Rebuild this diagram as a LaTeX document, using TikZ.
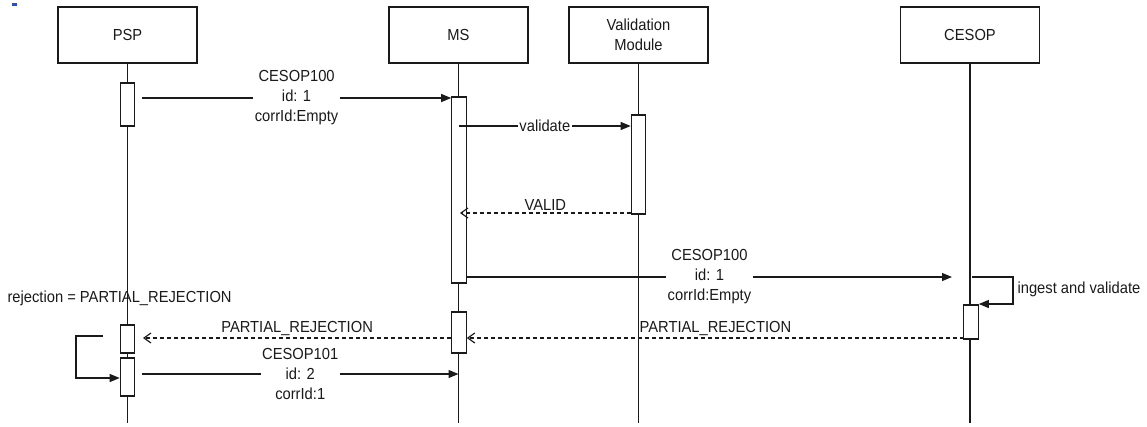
\documentclass[tikz,border=0pt]{standalone}
\usepackage{fontspec}
\setmainfont{Liberation Sans}[FakeStretch=0.92]
\usetikzlibrary{arrows.meta}
\definecolor{ink}{HTML}{1A1A1A}
\definecolor{bluemark}{HTML}{1E4FE0}
\begin{document}
\begin{tikzpicture}[x=1pt,y=-1pt,
  font=\fontsize{16}{20}\selectfont, color=ink, line width=1.15pt,
  actor/.style={draw, fill=white, minimum width=139pt, minimum height=56pt, align=center, inner sep=0pt},
  act/.style={draw, fill=white, minimum width=14.5pt, inner sep=0pt},
  msg/.style={draw, -{Triangle[length=10pt,width=8pt]}},
  ret/.style={draw, -{Straight Barb[length=7pt,width=10pt]}, dash pattern=on 4pt off 3pt},
  lbl/.style={fill=white, inner sep=1.5pt, align=center},
  note/.style={inner sep=1pt}]
\useasboundingbox (0,0) rectangle (1147,426);
\fill[bluemark] (12,3) rectangle (17,6);
% actors
\node[actor] (psp) at (127.5,35) {PSP};
\node[actor] (ms) at (458.5,35) {MS};
\node[actor] (vm) at (638.5,35) {Validation\\Module};
\node[actor] (cesop) at (970,35) {CESOP};
% lifeline ends
\coordinate (pspEnd) at (127.5,423);
\coordinate (msEnd) at (458.5,423);
\coordinate (vmEnd) at (638.5,423);
\coordinate (cesopEnd) at (970,423);
\draw (psp.south) -- (pspEnd);
\draw (ms.south) -- (msEnd);
\draw (vm.south) -- (vmEnd);
\draw (cesop.south) -- (cesopEnd);
% activations
\node[act, minimum height=43pt] (pa1) at (127.5,104.5) {};
\node[act, minimum height=186pt] (ma1) at (459,190) {};
\node[act, minimum height=99pt] (va1) at (638.5,164.5) {};
\node[act, minimum height=34pt] (ca1) at (971,322) {};
\node[act, minimum height=41pt] (ma2) at (459,332.5) {};
\node[act, minimum height=28pt] (pa2) at (127.5,339) {};
\node[act, minimum height=38pt] (pa3) at (127.5,377) {};
% message anchors
\coordinate (m1s) at (142,98);
\coordinate (m2s) at (459,126);
\coordinate (m3e) at (460,213);
\coordinate (m4e) at (952,277);
\coordinate (sl1) at (972,277);
\coordinate (sl2) at (1013,304);
\coordinate (r1s) at (964,338);
\coordinate (r2e) at (143,338);
\coordinate (pl1) at (103,336);
\coordinate (pl2) at (76,378);
\coordinate (m9s) at (142,374);
% messages
\draw[msg] (m1s) -- (ma1.west |- m1s)
  node[lbl, pos=0.5] {CESOP100\\id: 1\\corrId:Empty};
\draw[msg] (m2s) -- (va1.west |- m2s) node[lbl, pos=0.5] {validate};
\draw[ret] (va1.west |- m3e) -- (m3e) node[note, pos=0.5, above=1pt] {VALID};
\draw[msg] (ma1.east |- m4e) -- (m4e)
  node[lbl, pos=0.5] {CESOP100\\id: 1\\corrId:Empty};
\draw[msg] (sl1) -| (sl2) -- (ca1.east |- sl2);
\node[note, anchor=west] (iv) at (1016,289) {ingest and validate};
\draw[ret] (r1s) -- (ma2.east |- r1s) node[note, pos=0.5, above=1pt] {PARTIAL\_REJECTION};
\draw[ret] (ma2.west |- r2e) -- (r2e) node[note, pos=0.5, above=1pt] {PARTIAL\_REJECTION};
\node[note, anchor=west] (rej) at (6,298) {rejection = PARTIAL\_REJECTION};
\draw[msg] (pl1) -| (pl2) -- (pa3.west |- pl2);
\draw[msg] (m9s) -- (ms.south |- m9s)
  node[lbl, pos=0.5] {CESOP101\\id: 2\\corrId:1};
\end{tikzpicture}
\end{document}
